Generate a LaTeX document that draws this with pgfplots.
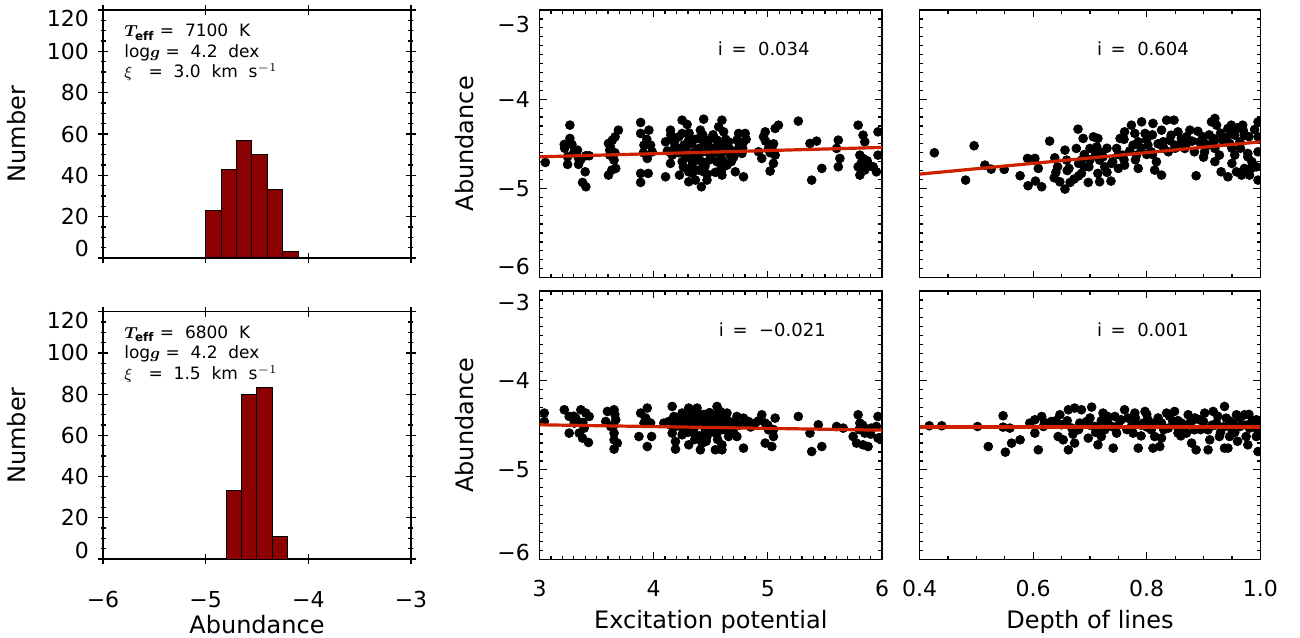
\documentclass[border=0pt]{standalone}
\usepackage{pgfplots}
\pgfplotsset{compat=1.18}
\usepackage{fontspec}
\setmainfont{DejaVu Sans}
\usepackage{bm}
\definecolor{barred}{RGB}{139,0,0}
\definecolor{fitred}{RGB}{204,34,0}
\tikzset{
  ann/.style={anchor=west, font=\fontsize{9}{11}\selectfont},
  par/.style={anchor=north west, align=left, inner sep=0pt, font=\fontsize{8.5}{10.2}\selectfont},
}
\newcommand{\sh}[2]{\raisebox{#1}[0pt][0pt]{#2}}
\pgfplotsset{
  base/.style={scale only axis, axis line style={line width=0.8pt}, tick style={black, line width=0.6pt},
    tick label style={font=\fontsize{11}{13}\selectfont},
    label style={font=\fontsize{12}{14}\selectfont},
    clip marker paths=true},
  hist/.style={base, width=154pt, height=124pt, xmin=-6, xmax=-3, ymin=0, ymax=120,
    xtick={-6,-5,-4,-3}, ytick={0,20,...,120}, minor y tick num=3,
    tick align=center, major tick length=5pt, minor tick length=2.5pt,
    yticklabels={\sh{0.5pt}{0},20,40,60,80,100,\sh{-8.5pt}{120}},
    yticklabel style={xshift=-1pt},
    xticklabel style={yshift=-10pt},
    ylabel={Number}, ylabel style={at={(axis description cs:-0.282,0.5)}, anchor=center}},
  scat/.style={base, width=171.25pt, height=134pt, ymin=-6, ymax=-3, ytick={-6,-5,-4,-3}, minor y tick num=9,
    tick align=inside, major tick length=3.5pt, minor tick length=1.8pt,
    xticklabel style={yshift=-7pt}, yticklabel style={xshift=-1.3pt}},
  ep/.style={xmin=3, xmax=6, xtick={3,4,5,6}, minor x tick num=9},
  dl/.style={xmin=0.4, xmax=1.0, xtick={0.4,0.6,0.8,1.0}, minor x tick num=3},
  abl/.style={ylabel={Abundance}, ylabel style={at={(axis description cs:-0.220,0.5)}, anchor=center}},
  pts/.style={only marks, mark=*, mark size=2.2pt, black},
  fit/.style={fitred, line width=1.6pt, no marks},
}
\begin{document}
\begin{tikzpicture}
\useasboundingbox (0,0) rectangle (650pt,318.5pt);

% ---------- top histogram ----------
\begin{axis}[hist, at={(51.5pt,189.5pt)}, anchor=south west, xticklabels={}]
\addplot[ybar interval, fill=barred, draw=black, line width=0.5pt] coordinates {(-5.0,23) (-4.85,43) (-4.7,57) (-4.55,50) (-4.4,33) (-4.25,3) (-4.1,0)};
\node[par] at (rel axis cs:0.068,0.945) {$\bm{T}_{\mathbf{eff}}$ = \ 7100 \ K\\log$\bm{g}$ = \ 4.2 \ dex\\$\xi$ \ \ = \ 3.0 \ km \ s$^{-1}$};
\end{axis}

% ---------- bottom histogram ----------
\begin{axis}[hist, at={(51.5pt,39pt)}, anchor=south west, height=123.65pt,
  xticklabels={−6,−5,−4,−3}, xlabel={Abundance}, xlabel style={at={(axis description cs:0.5,-0.300)}, anchor=base}]
\addplot[ybar interval, fill=barred, draw=black, line width=0.5pt] coordinates {(-4.8,33) (-4.65,80) (-4.5,83) (-4.35,11) (-4.2,0)};
\node[par] at (rel axis cs:0.068,0.945) {$\bm{T}_{\mathbf{eff}}$ = \ 6800 \ K\\log$\bm{g}$ = \ 4.2 \ dex\\$\xi$ \ \ = \ 1.5 \ km \ s$^{-1}$};
\end{axis}

% ---------- top middle ----------
\begin{axis}[scat, ep, abl, at={(269.75pt,179.7pt)}, anchor=south west, height=133.8pt, xticklabels={},
  yticklabels={\sh{1.5pt}{−6},−5,−4,\sh{-11.5pt}{−3}}]
\addplot[pts] coordinates {
(3.051,-4.709)
(3.266,-4.291) (3.217,-4.507) (3.266,-4.440) (3.284,-4.507) (3.333,-4.571) (3.246,-4.646) (3.246,-4.731) (3.342,-4.664) (3.342,-4.731) (3.406,-4.634) (3.435,-4.634) (3.400,-4.814) (3.377,-4.933) (3.406,-4.982)
(3.604,-4.496) (3.615,-4.571) (3.638,-4.459) (3.662,-4.422) (3.691,-4.347) (3.615,-4.627) (3.653,-4.683) (3.668,-4.776) (3.604,-4.851) (3.633,-4.795)
(3.886,-4.261) (3.886,-4.384) (3.958,-4.347) (3.915,-4.515) (3.973,-4.515) (3.987,-4.590) (3.944,-4.664) (3.886,-4.832) (3.952,-4.832) (3.886,-4.933)
(4.104,-4.478) (4.147,-4.347) (4.162,-4.440) (4.185,-4.534) (4.162,-4.627) (4.147,-4.720) (4.104,-4.870) (4.226,-4.851) (4.249,-4.235) (4.293,-4.283) (4.249,-4.384) (4.264,-4.515) (4.220,-4.422) (4.307,-4.459) (4.278,-4.627) (4.322,-4.664) (4.336,-4.739) (4.307,-4.814) (4.307,-4.926) (4.366,-4.907) (4.395,-4.552) (4.409,-4.347) (4.395,-4.440) (4.438,-4.224) (4.438,-4.478) (4.467,-4.590) (4.482,-4.459) (4.424,-4.702) (4.438,-4.814) (4.418,-4.982) (4.467,-4.907) (4.395,-4.795)
(4.598,-4.235) (4.569,-4.310) (4.613,-4.366) (4.555,-4.459) (4.598,-4.515) (4.540,-4.590) (4.555,-4.702) (4.584,-4.795) (4.642,-4.739) (4.656,-4.478) (4.671,-4.627) (4.598,-4.851) (4.729,-4.459) (4.744,-4.384) (4.802,-4.384) (4.787,-4.478) (4.773,-4.608) (4.715,-4.814) (4.787,-4.870) (4.729,-4.571)
(4.918,-4.590) (4.962,-4.422) (4.977,-4.366) (5.006,-4.552) (5.035,-4.552) (5.064,-4.627) (4.947,-4.664) (5.049,-4.720) (5.020,-4.806) (5.093,-4.291) (5.064,-4.328)
(5.267,-4.246)
(5.369,-4.496) (5.427,-4.470) (5.384,-4.907) (5.473,-4.776)
(5.602,-4.552) (5.617,-4.459) (5.631,-4.664) (5.617,-4.758)
(5.791,-4.291) (5.834,-4.403) (5.849,-4.478) (5.806,-4.627) (5.791,-4.758) (5.834,-4.664) (5.878,-4.739) (5.806,-4.851) (5.849,-4.795) (5.923,-4.758) (5.965,-4.366) (5.965,-4.627) (5.951,-4.814)
(4.20,-4.55) (4.35,-4.60) (4.50,-4.65) (4.52,-4.55) (4.25,-4.70) (4.62,-4.58) (4.68,-4.70) (4.12,-4.58) (4.45,-4.75) (4.58,-4.62)
(4.15,-4.40) (4.18,-4.48) (4.22,-4.60) (4.28,-4.55) (4.31,-4.38) (4.33,-4.50) (4.36,-4.45) (4.38,-4.68) (4.41,-4.60) (4.43,-4.40) (4.47,-4.52) (4.49,-4.68) (4.52,-4.40) (4.54,-4.82) (4.57,-4.52) (4.60,-4.68) (4.63,-4.45) (4.66,-4.55) (4.70,-4.65) (4.75,-4.50) (4.78,-4.55) (4.81,-4.45) (4.98,-4.47) (5.02,-4.60) (5.05,-4.50) (3.30,-4.60) (3.36,-4.68) (3.62,-4.53) (3.66,-4.60) (3.94,-4.45) (3.91,-4.60) (5.82,-4.71) (5.87,-4.69) (5.90,-4.75) (3.22,-4.55) (4.26,-4.76) (4.34,-4.83) (4.47,-4.84) (4.60,-4.78)
};
\addplot[fit] coordinates {(3,-4.646) (6,-4.541)};
\node[ann] at (rel axis cs:0.5,0.855) {i \,= \ 0.034};
\end{axis}

% ---------- top right ----------
\begin{axis}[scat, dl, at={(459.8pt,179.7pt)}, anchor=south west, width=170.35pt, height=133.8pt, xticklabels={}, yticklabels={}]
\addplot[pts] coordinates {
(0.426,-4.601) (0.496,-4.522) (0.481,-4.907) (0.515,-4.739) (0.526,-4.784) (0.549,-4.787)
(0.577,-4.858) (0.590,-4.664) (0.603,-4.664) (0.609,-4.776) (0.591,-4.970) (0.604,-4.918) (0.615,-4.982) (0.629,-4.470) (0.638,-4.657) (0.637,-4.881) (0.647,-4.926) (0.643,-4.758)
(0.656,-4.571) (0.659,-4.683) (0.663,-4.776) (0.656,-5.008) (0.665,-4.933) (0.672,-4.896) (0.676,-4.552) (0.679,-4.336) (0.680,-4.720) (0.685,-4.683) (0.688,-4.440) (0.685,-4.832) (0.698,-4.758) (0.697,-4.933) (0.700,-4.552) (0.706,-4.422) (0.714,-4.440) (0.712,-4.534) (0.717,-4.683) (0.714,-4.832) (0.717,-4.926) (0.723,-4.646) (0.726,-4.758) (0.737,-4.918) (0.738,-4.720)
(0.747,-4.552) (0.753,-4.440) (0.761,-4.366) (0.758,-4.627) (0.750,-4.776) (0.761,-4.739) (0.773,-4.291) (0.779,-4.384) (0.776,-4.515) (0.785,-4.478) (0.791,-4.254) (0.782,-4.627) (0.785,-4.776) (0.797,-4.384) (0.802,-4.515) (0.811,-4.272) (0.808,-4.590) (0.814,-4.795) (0.826,-4.851) (0.817,-4.702) (0.829,-4.478) (0.826,-4.347) (0.835,-4.235) (0.848,-4.235) (0.843,-4.403) (0.838,-4.590) (0.849,-4.515)
(0.855,-4.366) (0.861,-4.440) (0.867,-4.552) (0.876,-4.347) (0.884,-4.590) (0.887,-4.858) (0.893,-4.478) (0.899,-4.422) (0.902,-4.590) (0.908,-4.515) (0.914,-4.254) (0.920,-4.216) (0.923,-4.291) (0.917,-4.440) (0.920,-4.552) (0.928,-4.627) (0.934,-4.459) (0.943,-4.328) (0.949,-4.291) (0.955,-4.403) (0.946,-4.496) (0.955,-4.627) (0.931,-4.814) (0.943,-4.870) (0.958,-4.814) (0.969,-4.291) (0.972,-4.403) (0.964,-4.478) (0.978,-4.608) (0.978,-4.646) (0.972,-4.776) (0.981,-4.851) (0.967,-4.851) (0.996,-4.254) (0.996,-4.422) (0.996,-4.590) (0.993,-4.758) (0.996,-4.907) (0.984,-4.776)
(0.72,-4.60) (0.80,-4.62) (0.87,-4.50) (0.90,-4.65) (0.83,-4.55) (0.95,-4.55) (0.76,-4.68) (0.69,-4.62)
(0.70,-4.68) (0.73,-4.55) (0.75,-4.62) (0.77,-4.58) (0.79,-4.55) (0.80,-4.45) (0.81,-4.40) (0.82,-4.50) (0.84,-4.46) (0.85,-4.55) (0.86,-4.49) (0.87,-4.42) (0.88,-4.47) (0.89,-4.36) (0.90,-4.48) (0.91,-4.40) (0.92,-4.46) (0.93,-4.38) (0.94,-4.43) (0.95,-4.36) (0.96,-4.32) (0.97,-4.35) (0.98,-4.42) (0.99,-4.34) (0.965,-4.55) (0.985,-4.70) (0.95,-4.72) (0.92,-4.70) (0.66,-4.80) (0.69,-4.76) (0.71,-4.62) (0.74,-4.70) (0.78,-4.68) (0.81,-4.62) (0.76,-4.45) (0.68,-4.86) (0.64,-4.82) (0.73,-4.82)
};
\addplot[fit] coordinates {(0.4,-4.840) (1.0,-4.478)};
\node[ann] at (rel axis cs:0.5,0.855) {i \,= \ 0.604};
\end{axis}

% ---------- bottom middle ----------
\begin{axis}[scat, ep, abl, at={(269.75pt,38.85pt)}, anchor=south west, height=134.15pt,
  xticklabels={3,4,5,6}, xlabel={Excitation potential}, xlabel style={at={(axis description cs:0.5,-0.257)}, anchor=base},
  yticklabels={\sh{-0.5pt}{−6},−5,−4,\sh{-9.5pt}{−3}}]
\addplot[pts] coordinates {
(3.042,-4.365) (3.042,-4.459)
(3.217,-4.328) (3.260,-4.403) (3.318,-4.421) (3.362,-4.328) (3.406,-4.365) (3.435,-4.403) (3.260,-4.589) (3.348,-4.589) (3.391,-4.533) (3.377,-4.645) (3.429,-4.694) (3.333,-4.459) (3.304,-4.477)
(3.595,-4.347) (3.653,-4.328) (3.668,-4.440) (3.624,-4.515) (3.653,-4.589) (3.653,-4.664) (3.682,-4.701) (3.653,-4.768) (3.580,-4.459)
(3.886,-4.365) (3.944,-4.309) (3.915,-4.477) (3.973,-4.477) (3.871,-4.627) (3.982,-4.627) (3.944,-4.739)
(4.089,-4.477) (4.162,-4.291) (4.177,-4.403) (4.133,-4.459) (4.191,-4.515) (4.162,-4.589) (4.191,-4.683) (4.191,-4.768) (4.249,-4.365) (4.264,-4.459) (4.307,-4.309) (4.322,-4.403) (4.336,-4.515) (4.307,-4.720) (4.249,-4.608) (4.366,-4.627) (4.380,-4.309) (4.409,-4.384) (4.395,-4.477) (4.438,-4.459) (4.453,-4.571) (4.424,-4.701) (4.409,-4.776) (4.467,-4.627) (4.482,-4.403)
(4.555,-4.291) (4.540,-4.384) (4.584,-4.347) (4.569,-4.459) (4.613,-4.477) (4.642,-4.365) (4.628,-4.552) (4.656,-4.627) (4.598,-4.720) (4.540,-4.776) (4.598,-4.776) (4.555,-4.589) (4.511,-4.515)
(4.729,-4.403) (4.787,-4.421) (4.729,-4.627) (4.787,-4.757) (4.831,-4.459) (4.889,-4.477) (4.947,-4.384) (4.977,-4.477) (5.006,-4.552) (5.064,-4.421) (4.977,-4.701) (5.035,-4.739) (5.049,-4.627)
(5.267,-4.403) (5.384,-4.795) (5.442,-4.496) (5.473,-4.739) (5.369,-4.589)
(5.602,-4.515) (5.660,-4.533) (5.747,-4.627) (5.791,-4.384) (5.806,-4.477) (5.777,-4.701) (5.834,-4.720) (5.878,-4.739) (5.849,-4.589) (5.965,-4.403) (5.965,-4.645) (5.951,-4.515) (5.907,-4.533)
(4.25,-4.50) (4.35,-4.55) (4.45,-4.52) (4.50,-4.45) (4.60,-4.55) (4.30,-4.58) (4.40,-4.62) (4.55,-4.50) (4.20,-4.45) (4.65,-4.45)
(4.15,-4.50) (4.18,-4.42) (4.22,-4.48) (4.27,-4.40) (4.29,-4.52) (4.32,-4.45) (4.34,-4.36) (4.37,-4.48) (4.39,-4.42) (4.42,-4.50) (4.44,-4.38) (4.47,-4.47) (4.49,-4.36) (4.52,-4.42) (4.53,-4.58) (4.57,-4.40) (4.59,-4.48) (4.62,-4.42) (4.66,-4.52) (4.70,-4.47) (4.75,-4.50) (4.80,-4.48) (4.85,-4.52) (4.92,-4.45) (5.00,-4.50) (5.05,-4.55) (3.30,-4.40) (3.38,-4.47) (3.65,-4.50) (3.66,-4.38) (3.93,-4.42) (5.83,-4.50) (5.86,-4.54) (5.90,-4.60) (5.80,-4.55) (4.26,-4.56) (4.36,-4.66) (4.46,-4.68) (4.56,-4.66) (4.70,-4.58)
};
\addplot[fit] coordinates {(3,-4.496) (6,-4.556)};
\node[ann] at (rel axis cs:0.503,0.855) {i \,= \ −0.021};
\end{axis}

% ---------- bottom right ----------
\begin{axis}[scat, dl, at={(459.8pt,38.85pt)}, anchor=south west, width=170.35pt, height=134.15pt,
  xticklabels={0.4,0.6,0.8,1.0}, yticklabels={},
  xlabel={Depth of lines}, xlabel style={at={(axis description cs:0.5,-0.257)}, anchor=base}]
\addplot[pts] coordinates {
(0.417,-4.507) (0.439,-4.507) (0.502,-4.515) (0.547,-4.395) (0.547,-4.522) (0.559,-4.533) (0.521,-4.739) (0.551,-4.802) (0.562,-4.701) (0.577,-4.664) (0.594,-4.477) (0.603,-4.589) (0.609,-4.776) (0.603,-4.440) (0.615,-4.403) (0.618,-4.515) (0.632,-4.459)
(0.647,-4.384) (0.650,-4.496) (0.644,-4.627) (0.653,-4.664) (0.662,-4.776) (0.662,-4.328) (0.668,-4.533) (0.673,-4.309) (0.673,-4.701) (0.685,-4.328) (0.682,-4.477) (0.694,-4.459) (0.697,-4.645) (0.703,-4.298) (0.709,-4.515) (0.714,-4.720) (0.723,-4.365) (0.726,-4.552) (0.720,-4.627) (0.741,-4.757) (0.732,-4.477) (0.744,-4.403) (0.747,-4.589)
(0.761,-4.328) (0.767,-4.421) (0.773,-4.515) (0.779,-4.365) (0.776,-4.589) (0.785,-4.757) (0.797,-4.347) (0.794,-4.477) (0.802,-4.440) (0.808,-4.552) (0.811,-4.757) (0.823,-4.739) (0.814,-4.627) (0.826,-4.645) (0.826,-4.477) (0.835,-4.365) (0.838,-4.533) (0.849,-4.347) (0.846,-4.459) (0.855,-4.589) (0.861,-4.477) (0.873,-4.384) (0.870,-4.589) (0.879,-4.701) (0.887,-4.776) (0.884,-4.552)
(0.893,-4.440) (0.902,-4.365) (0.908,-4.552) (0.911,-4.664) (0.908,-4.776) (0.917,-4.347) (0.923,-4.477) (0.928,-4.627) (0.937,-4.291) (0.940,-4.421) (0.937,-4.757) (0.946,-4.627) (0.952,-4.477) (0.958,-4.384) (0.964,-4.515) (0.972,-4.384) (0.975,-4.627) (0.978,-4.720) (0.981,-4.533) (0.993,-4.440) (0.996,-4.795) (0.993,-4.627) (0.987,-4.515) (0.943,-4.757)
(0.70,-4.50) (0.75,-4.50) (0.80,-4.52) (0.85,-4.50) (0.90,-4.52) (0.95,-4.55) (0.78,-4.48) (0.88,-4.45) (0.72,-4.45) (0.92,-4.50)
(0.66,-4.45) (0.68,-4.55) (0.70,-4.42) (0.71,-4.58) (0.73,-4.40) (0.74,-4.52) (0.755,-4.44) (0.765,-4.55) (0.78,-4.42) (0.79,-4.50) (0.80,-4.38) (0.81,-4.48) (0.82,-4.42) (0.83,-4.55) (0.84,-4.40) (0.855,-4.45) (0.865,-4.52) (0.875,-4.48) (0.885,-4.42) (0.895,-4.55) (0.90,-4.46) (0.915,-4.50) (0.925,-4.40) (0.935,-4.52) (0.945,-4.45) (0.955,-4.58) (0.965,-4.42) (0.975,-4.50) (0.985,-4.46) (0.995,-4.55) (0.995,-4.48) (0.98,-4.38) (0.93,-4.58) (0.86,-4.62) (0.79,-4.62) (0.72,-4.55) (0.64,-4.45) (0.62,-4.47) (0.67,-4.60) (0.96,-4.68)
};
\addplot[fit] coordinates {(0.4,-4.52) (1.0,-4.52)};
\node[ann] at (rel axis cs:0.5,0.855) {i \,= \ 0.001};
\end{axis}
\end{tikzpicture}
\end{document}
